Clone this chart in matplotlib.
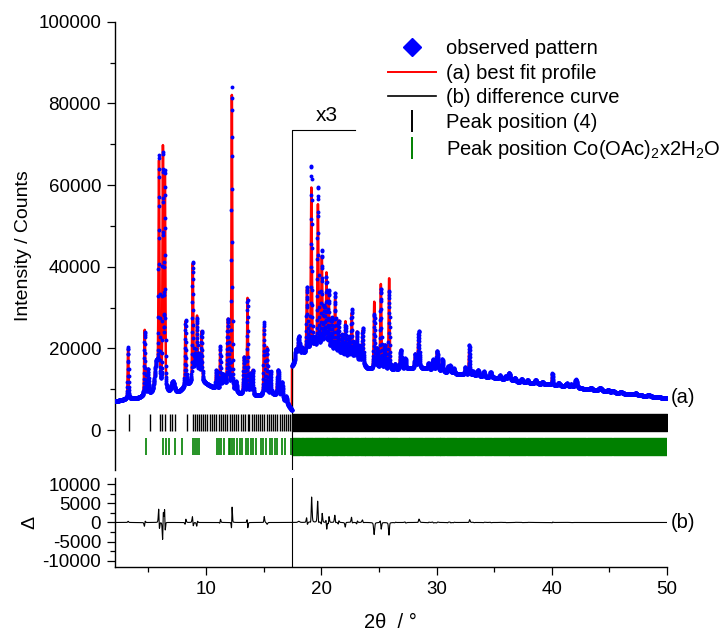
import numpy as np
import matplotlib.pyplot as plt
from matplotlib.lines import Line2D

plt.rcParams['font.family'] = ['Liberation Sans', 'DejaVu Sans']
plt.rcParams['mathtext.fontset'] = 'custom'
plt.rcParams['mathtext.rm'] = 'Liberation Sans'
plt.rcParams['mathtext.it'] = 'Liberation Sans:italic'
plt.rcParams['axes.unicode_minus'] = False

# ---- data ----
# above the cut the pattern is shown x3, values below are as displayed
cut = 17.45
tt_min, tt_max = 2.1, 50.0

# background below the cut
low_bg_x = [2.1, 3.0, 4.0, 5.0, 5.5, 6.8, 7.6, 8.5, 9.5, 10.3, 11.0, 12.0, 12.8, 13.4, 14.5, 15.8, 16.5, 17.0, 17.45]
low_bg_y = [7000, 7500, 7700, 8600, 9000, 9000, 9200, 11000, 12000, 10800, 9800, 9200, 8800, 8600, 8300, 8700, 7800, 6500, 4800]

# reflections below the cut: position, calc height, fwhm, observed height, observed shift
low_pos = [3.24, 4.68, 4.97, 5.70, 5.92, 6.26, 6.43, 7.12, 8.22, 8.85, 9.05, 9.22, 9.42, 9.62,
           10.9, 11.23, 11.45, 11.6, 11.9, 12.24, 12.6, 13.3, 13.6, 13.85, 14.05, 15.03, 15.3,
           15.6, 16.26, 16.6, 16.95]
low_calc = [12500, 16000, 6000, 7000, 54000, 59000, 52000, 2600, 16000, 29000, 6000, 15500, 6000, 12000,
            4500, 10000, 3500, 3000, 17500, 72500, 2500, 9000, 23500, 5000, 6000, 16500, 11500,
            5500, 6500, 4000, 1500]
low_fwhm = [0.09, 0.1, 0.1, 0.35, 0.09, 0.09, 0.08, 0.3, 0.1, 0.1, 0.12, 0.1, 0.12, 0.1,
            0.12, 0.09, 0.14, 0.14, 0.16, 0.075, 0.14, 0.12, 0.09, 0.1, 0.1, 0.09, 0.1,
            0.1, 0.18, 0.14, 0.14]
low_obs = [12800, 15500, 6000, 7000, 55500, 57500, 53000, 2600, 16300, 29500, 6000, 15000, 6000, 12000,
           4500, 10500, 3500, 3000, 17500, 74500, 2500, 9000, 23000, 5000, 6000, 17800, 11000,
           5500, 6500, 4000, 1500]
low_shift = [0, 0.003, 0, 0, -0.003, 0.004, -0.003, 0, 0.003, -0.003, 0, 0.003, 0, 0,
             0, 0.003, 0, 0, 0, 0.002, 0, 0, -0.003, 0, 0, 0.002, 0,
             0, 0, 0, 0]

# background above the cut (x3)
high_bg_x = [17.45, 18.0, 19.0, 20.0, 21.0, 22.0, 23.0, 24.0, 25.0, 26.2, 27.5, 29.0, 31.0, 33.0,
             35.0, 37.0, 39.0, 41.0, 43.0, 45.0, 47.0, 50.0]
high_bg_y = [15500, 18000, 19000, 19500, 19000, 18000, 17000, 15000, 14500, 14500, 15000, 15000, 14000, 13300,
             12800, 11800, 11300, 10800, 10000, 9300, 8700, 7800]

high_pos = [17.8, 18.05, 18.35, 18.76, 19.14, 19.42, 19.71, 20.05, 20.28, 20.45, 20.65, 20.9, 21.2, 21.5,
            21.8, 22.1, 22.4, 22.65, 22.9, 23.1, 23.35, 23.6, 24.6, 24.85, 25.17, 25.5, 25.89, 26.4,
            26.9, 27.3, 28.15, 28.45, 29.3, 29.7, 30.05, 30.5, 31.0, 31.2, 31.5, 32.5, 32.85, 33.2,
            33.6, 34.1, 34.7, 35.5, 36.0, 36.3, 36.8, 37.4, 37.9, 38.6, 39.2, 40.05, 40.6, 41.3,
            41.7, 42.1, 43.4, 44.2, 44.9, 45.3, 46.0, 47.3, 48.4]
high_calc = [2500, 4500, 1500, 15500, 40000, 2500, 35500, 22500, 10000, 18500, 13500, 8000, 13000, 8000,
             5000, 8500, 5000, 11000, 4000, 7000, 4000, 8500, 16500, 5000, 21000, 6000, 22500, 1500,
             4800, 2500, 3500, 8500, 1500, 2500, 4800, 3000, 1500, 1800, 1200, 1800, 6800, 1000,
             1500, 1300, 1300, 800, 800, 1800, 900, 800, 700, 900, 600, 2800, 700, 700,
             600, 2000, 500, 700, 500, 400, 400, 400, 400]
high_fwhm = [0.15, 0.18, 0.12, 0.1, 0.1, 0.1, 0.1, 0.1, 0.09, 0.09, 0.09, 0.1, 0.1, 0.1,
             0.1, 0.1, 0.1, 0.1, 0.1, 0.1, 0.1, 0.12, 0.11, 0.1, 0.11, 0.12, 0.1, 0.12,
             0.17, 0.12, 0.14, 0.14, 0.12, 0.14, 0.17, 0.14, 0.12, 0.12, 0.12, 0.14, 0.11, 0.12,
             0.17, 0.14, 0.14, 0.15, 0.15, 0.22, 0.15, 0.17, 0.15, 0.17, 0.15, 0.1, 0.15, 0.22,
             0.15, 0.2, 0.2, 0.3, 0.2, 0.22, 0.2, 0.2, 0.2]
high_obs = [2500, 4800, 1500, 16000, 45500, 2500, 40000, 24000, 10000, 17500, 14500, 8000, 14500, 8000,
            5000, 7500, 5000, 12000, 4000, 7000, 4000, 9000, 13500, 5000, 20000, 6000, 19500, 1500,
            4800, 2500, 3500, 9200, 1500, 2500, 4800, 3000, 1500, 1800, 1200, 1800, 7400, 1000,
            1500, 1300, 1300, 800, 800, 1800, 900, 800, 700, 900, 600, 2800, 700, 700,
            600, 2000, 500, 700, 500, 400, 400, 400, 400]
high_shift = [0, 0, 0, -0.004, 0.004, 0, -0.004, 0.004, 0, -0.004, 0.004, 0, -0.004, 0.004,
              0, 0.004, 0, -0.004, 0, 0.004, 0, -0.003, 0.003, 0, -0.004, 0, 0.003, 0.005,
              0, -0.005, 0, 0.004, 0.005, -0.005, 0.003, 0, 0.005, -0.005, 0.005, 0, 0.003, -0.005,
              0, 0.005, -0.005, 0.005, -0.005, 0, 0.005, -0.005, 0.005, 0, -0.005, 0.003, 0, 0.005,
              -0.005, 0, 0.005, 0, -0.005, 0, 0.005, -0.005, 0.005]

# peak positions, phase (4) and Co(OAc)2x2H2O
black_pos = [3.30, 5.11, 6.03, 6.21, 6.41, 6.84, 7.07, 7.30, 8.33, 8.9, 9.05, 9.22, 9.4, 9.55, 9.78,
             9.95, 10.12, 10.35, 10.5, 10.72, 10.9, 11.1, 11.3, 11.45, 11.65, 11.85, 12.05, 12.22,
             12.45, 12.6, 12.8, 13.0, 13.2, 13.38, 13.6, 13.75, 13.95, 14.15, 14.3, 14.5, 14.7,
             14.9, 15.05, 15.25, 15.45, 15.6, 15.8, 16.0, 16.2, 16.4, 16.55, 16.75, 16.95, 17.1, 17.3]
black_band = (17.45, 50.0)
green_pos = [4.77, 6.26, 6.49, 6.78, 7.35, 7.93, 8.85, 9.02, 9.19, 9.36, 10.92, 11.09, 11.29, 11.58,
             12.01, 12.1, 12.24, 12.44, 12.73, 12.93, 13.16, 13.45, 13.67, 13.88, 14.08, 14.31, 14.74,
             14.94, 15.17, 15.52, 15.74, 15.97, 16.17, 16.6, 16.84, 17.41]
green_band = (17.45, 50.0)
green_gaps = [18.2, 18.55, 19.35, 20.3, 20.5, 20.8, 21.5, 22.1, 22.8, 23.3, 23.8, 24.4, 25.0, 25.8,
              26.7, 27.6, 28.9, 29.8, 30.3, 30.8, 31.85, 33.4, 34.1, 34.85, 36.3, 37.8, 39.3, 43.0, 45.3]


def profile(x, pos, height, fwhm, shift=None, eta=0.4):
    out = np.zeros_like(x)
    if shift is None:
        shift = [0] * len(pos)
    for p, h, w, s in zip(pos, height, fwhm, shift):
        d = x - (p + s)
        g = np.exp(-4 * np.log(2) * d**2 / w**2)
        l = 1 / (1 + 4 * d**2 / w**2)
        out += h * ((1 - eta) * g + eta * l)
    return out


x = np.arange(tt_min, tt_max + 0.005, 0.01)
lo = x < cut
hi = ~lo

bg = np.where(lo, np.interp(x, low_bg_x, low_bg_y), np.interp(x, high_bg_x, high_bg_y))
calc = bg.copy()
obs = bg.copy()
calc[lo] += profile(x[lo], low_pos, low_calc, low_fwhm)
obs[lo] += profile(x[lo], low_pos, low_obs, low_fwhm, low_shift)
calc[hi] += profile(x[hi], high_pos, high_calc, high_fwhm)
obs[hi] += profile(x[hi], high_pos, high_obs, high_fwhm, high_shift)
diff = obs - calc

# ---- figure ----
fig = plt.figure(figsize=(7.25, 6.35), dpi=100)
ax = fig.add_axes([0.1586, 0.2598, 0.7614, 0.706])
axd = fig.add_axes([0.1586, 0.1071, 0.7614, 0.1402])

ax.plot(x, calc, color='#ff0000', lw=1.8, zorder=2)
ax.plot(x, obs, ls='none', marker='o', ms=2.8, mew=0, color='#0000ff', zorder=3)

# reflection markers
ax.vlines(black_pos, -250, 3900, color='black', lw=1.0)
ax.broken_barh([(black_band[0], black_band[1] - black_band[0])], (-250, 4150), color='black')
ax.vlines(green_pos, -6100, -1950, color='#008000', lw=1.2)
edges = [green_band[0]] + green_gaps + [green_band[1]]
segs = [(edges[i] + 0.03, edges[i + 1] - edges[i] - 0.06) for i in range(len(edges) - 1)]
segs[0] = (green_band[0], segs[0][1] + 0.03)
ax.broken_barh(segs, (-6100, 4150), color='#008000')

# x3 marker
ax.plot([cut, cut, 22.96], [-9800, 73500, 73500], color='black', lw=0.8)
ax.text(20.5, 74800, 'x3', ha='center', va='bottom', fontsize=15)
ax.text(50.3, 8000, '(a)', ha='left', va='center', fontsize=14.5, clip_on=False)

ax.set_xlim(tt_min, tt_max)
ax.set_ylim(-9800, 100000)
ax.set_yticks(np.arange(0, 100001, 20000))
ax.set_yticks(np.arange(-0, 100001, 10000), minor=True)
ax.set_xticks([])
for s in ['top', 'right', 'bottom']:
    ax.spines[s].set_visible(False)

axd.plot(x, diff, color='black', lw=0.8)
axd.axvline(cut, color='black', lw=0.8)
axd.text(50.3, 0, '(b)', ha='left', va='center', fontsize=14.5, clip_on=False)
axd.set_xlim(tt_min, tt_max)
axd.set_ylim(-11700, 11700)
axd.set_yticks([-10000, -5000, 0, 5000, 10000])
axd.set_yticks(np.arange(-10000, 10001, 2500), minor=True)
axd.set_xticks([10, 20, 30, 40, 50])
axd.set_xticks([5, 15, 25, 35, 45], minor=True)
for s in ['top', 'right']:
    axd.spines[s].set_visible(False)

for a in (ax, axd):
    a.patch.set_alpha(0)
    for s in a.spines.values():
        s.set_linewidth(1.0)
    a.tick_params(which='major', direction='out', length=6, width=0.9, labelsize=13.5, pad=4)
    a.tick_params(which='minor', direction='out', length=3.5, width=0.9)

fig.text(24 / 725, 1 - 246 / 635, 'Intensity / Counts', rotation=90, ha='center', va='center', fontsize=14)
fig.text(30 / 725, 1 - 522 / 635, 'Δ', rotation=90, ha='center', va='center', fontsize=14)
fig.text(390 / 725, 1 - 622 / 635, '2θ  / °', ha='center', va='center', fontsize=14.5)

handles = [
    Line2D([], [], ls='none', marker='D', ms=9, color='#0000ff'),
    Line2D([], [], color='#ff0000', lw=1.4),
    Line2D([], [], color='black', lw=1.2),
    Line2D([], [], ls='none', marker='|', ms=16, mew=1.4, color='black'),
    Line2D([], [], ls='none', marker='|', ms=16, mew=1.4, color='#008000'),
]
labels = ['observed pattern', '(a) best fit profile', '(b) difference curve',
          'Peak position (4)', 'Peak position Co(OAc)$_2$x2H$_2$O']
fig.legend(handles, labels, loc='upper left', bbox_to_anchor=(388 / 725, 1 - 39 / 635),
           frameon=False, fontsize=14.5, handlelength=2.4, handletextpad=0.5,
           labelspacing=0.28, borderpad=0, borderaxespad=0)

fig.savefig('out.png', dpi=100)
